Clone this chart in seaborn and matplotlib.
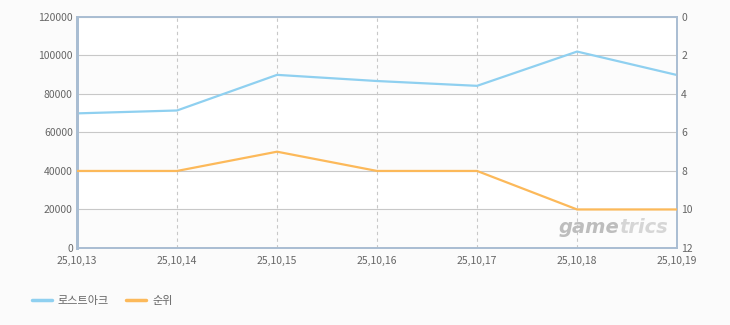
import matplotlib
matplotlib.use("Agg")
import matplotlib.pyplot as plt
import seaborn as sns
import pandas as pd
from matplotlib.lines import Line2D

dates = ["25,10,13", "25,10,14", "25,10,15", "25,10,16", "25,10,17", "25,10,18", "25,10,19"]
users = [69900, 71400, 89900, 86700, 84200, 102000, 89800]
ranks = [8, 8, 7, 8, 8, 10, 10]
series_user = "로스트아크"
series_rank = "순위"
left_ticks = [0, 20000, 40000, 60000, 80000, 100000, 120000]
right_ticks = [0, 2, 4, 6, 8, 10, 12]

sns.set_theme(style="white")
plt.rcParams['font.family'] = ['Noto Sans CJK KR', 'DejaVu Sans']

df = pd.DataFrame({"x": range(len(dates)), "users": users, "ranks": ranks})

fig = plt.figure(figsize=(7.3, 3.25), dpi=100)
fig.patch.set_facecolor("#fbfbfb")
ax = fig.add_axes([0.1055, 0.237, 0.822, 0.711])
ax.set_facecolor("white")

blue = "#8fd0f0"
orange = "#fcb95a"
gridc = "#c8c8c8"
spinec = "#a9bdd2"
textc = "#666666"

# alternating bands
for i in range(0, 6):
    if i % 2 == 0:
        ax.axhspan(left_ticks[i], left_ticks[i + 1], color="#fcfcfc", zorder=0, lw=0)

sns.lineplot(data=df, x="x", y="users", ax=ax, color=blue, lw=1.6, zorder=3)
ax.set_xlim(0, len(dates) - 1)
ax.set_ylim(0, 120000)
ax.set_yticks(left_ticks)
ax.set_yticklabels([str(t) for t in left_ticks])
ax.set_xticks(range(len(dates)))
ax.set_xticklabels(dates)
ax.set_xlabel("")
ax.set_ylabel("")
ax.grid(axis="y", color=gridc, lw=0.8, ls="-")
ax.grid(axis="x", color=gridc, lw=0.8, ls=(0, (3, 3)))
ax.set_axisbelow(True)

ax2 = ax.twinx()
sns.lineplot(data=df, x="x", y="ranks", ax=ax2, color=orange, lw=1.6, zorder=3)
ax2.set_ylim(12, 0)
ax2.set_yticks(right_ticks)
ax2.set_yticklabels([str(t) for t in right_ticks])
ax2.set_ylabel("")
ax2.set_xlim(0, len(dates) - 1)

for a in (ax, ax2):
    for s in a.spines.values():
        s.set_color(spinec)
        s.set_linewidth(1.2)
    a.tick_params(axis="both", colors=textc, labelsize=7.5, length=0, pad=3)
    for lab in a.get_xticklabels() + a.get_yticklabels():
        lab.set_color(textc)
ax.tick_params(axis="x", pad=6)
ax.spines["left"].set_linewidth(2)
ax2.spines["left"].set_linewidth(2)

t1 = ax.text(0.803, 0.087, "game", transform=ax.transAxes, ha="left", va="center",
             fontsize=14, fontstyle="italic", fontweight="bold", color="#bdbdbd",
             family=["DejaVu Sans"], zorder=1)
t2 = ax.annotate("trics", xycoords=t1, xy=(1, 0.5), ha="left", va="center",
                 fontsize=14, fontstyle="italic", fontweight="bold", color="#d6d6d6",
                 family=["DejaVu Sans"], zorder=1)

handles = [Line2D([0], [0], color=blue, lw=2.5), Line2D([0], [0], color=orange, lw=2.5)]
fig.legend(handles, [series_user, series_rank], loc="center left", bbox_to_anchor=(0.03, 0.075),
           ncol=2, frameon=False, fontsize=8, handlelength=1.8, columnspacing=1.6,
           labelcolor=textc, handletextpad=0.5)

fig.savefig("out.png", dpi=100, facecolor=fig.get_facecolor())
